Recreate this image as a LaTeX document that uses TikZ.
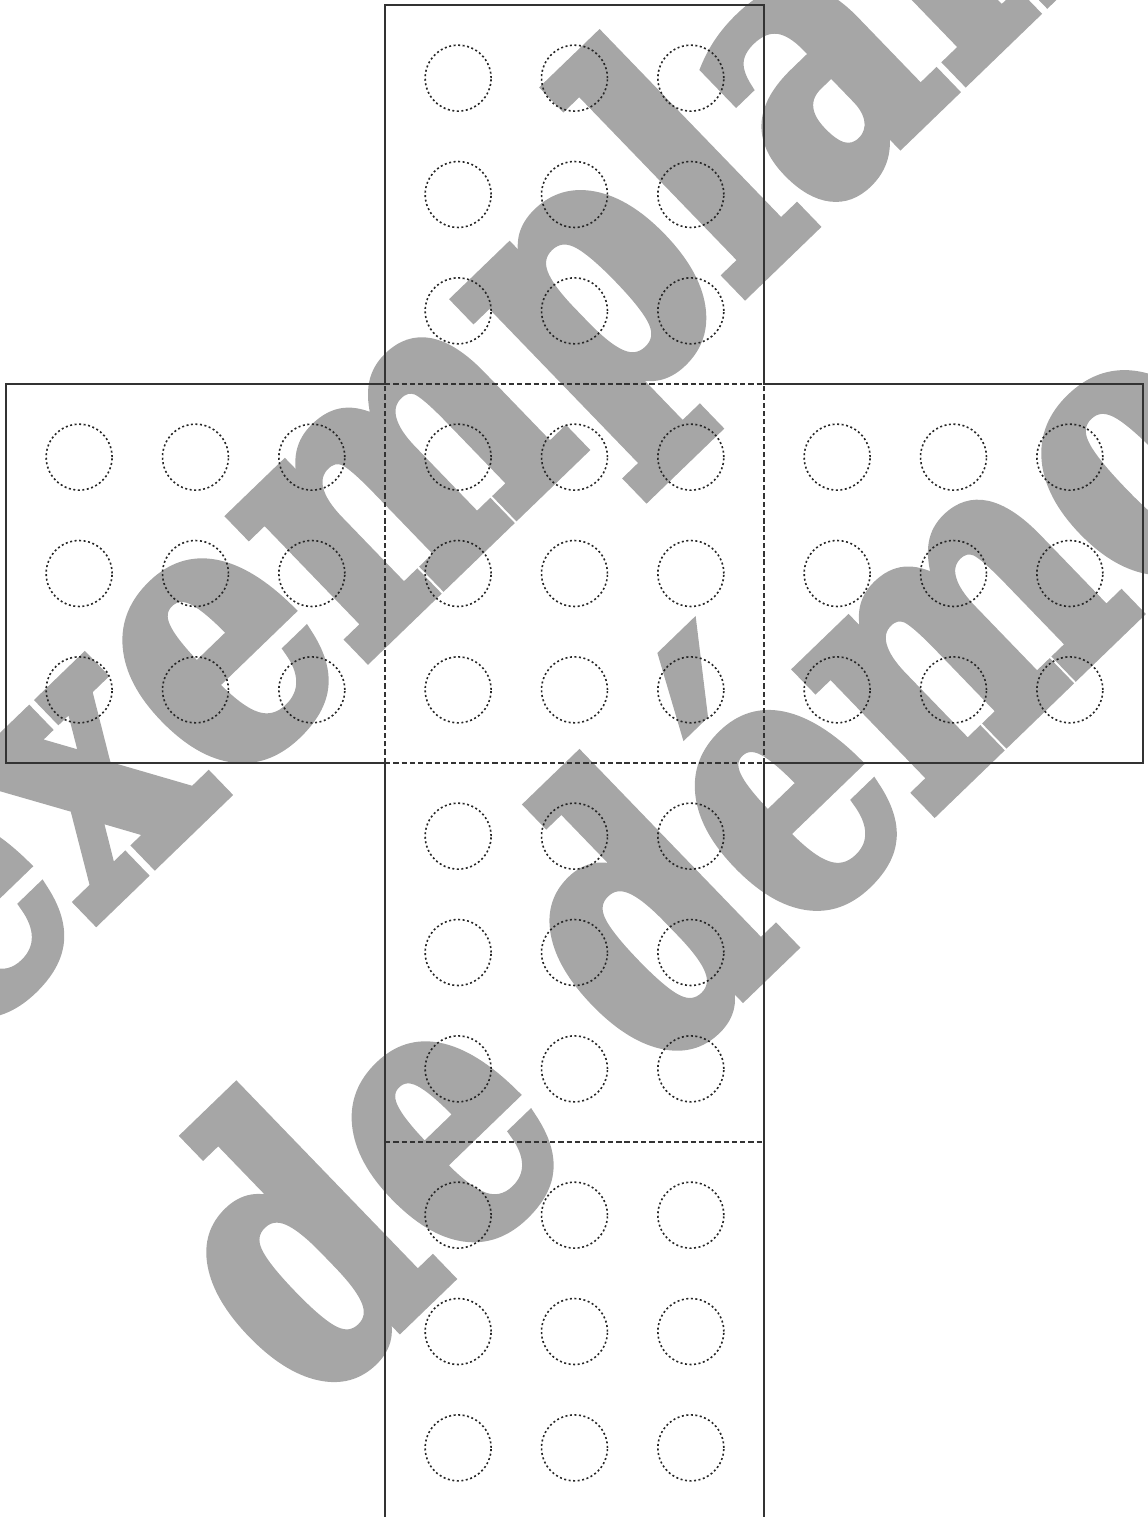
\documentclass[tikz,border=0pt]{standalone}
\usepackage{fontspec}
\newfontfamily\markfont{DejaVu Serif}[BoldFeatures={FakeBold=3.5}]
\definecolor{stampgray}{HTML}{A6A6A6}

\begin{document}
\begin{tikzpicture}[x=5cm,y=5cm,
  cut/.style={line width=0.6pt,color=black!80,line join=miter},
  fold/.style={line width=0.6pt,color=black!80,dash pattern=on 2pt off 1.1pt},
  hole/.style={line width=0.6pt,color=black!85,dash pattern=on 0.75pt off 0.95pt},
  stamp/.style={inner sep=0pt,anchor=base west,text=stampgray,
    font=\markfont\bfseries\fontsize{140}{150}\selectfont,rotate=44}]
  \useasboundingbox (-0.0158,0.0106) rectangle (3.0106,4.0132);

  % watermark, behind the net
  \node[stamp,xscale=0.80] (mark1) at (-0.125,1.24) {exemplaire};
  \node[stamp,xscale=0.76] (mark2) at (0.805,0.29) {de démo};

  % outline of the net
  \draw[cut] (1,0) -- (1,2) -- (0,2) -- (0,3) -- (1,3) -- (1,4) -- (2,4) -- (2,3)
    -- (3,3) -- (3,2) -- (2,2) -- (2,0) -- cycle;
  % folds
  \draw[fold] (1,3) -- (2,3);
  \draw[fold] (1,2) -- (2,2);
  \draw[fold] (1,1) -- (2,1);
  \draw[fold] (1,2) -- (1,3);
  \draw[fold] (2,2) -- (2,3);

  % holes, 3x3 on every face
  \foreach \fx/\fy in {1/3, 0/2, 1/2, 2/2, 1/1, 1/0}
    \foreach \cx in {0.193,0.5,0.807}
      \foreach \cy in {0.193,0.5,0.807}
        \draw[hole] (\fx+\cx,\fy+\cy) circle (0.435cm);
\end{tikzpicture}
\end{document}
